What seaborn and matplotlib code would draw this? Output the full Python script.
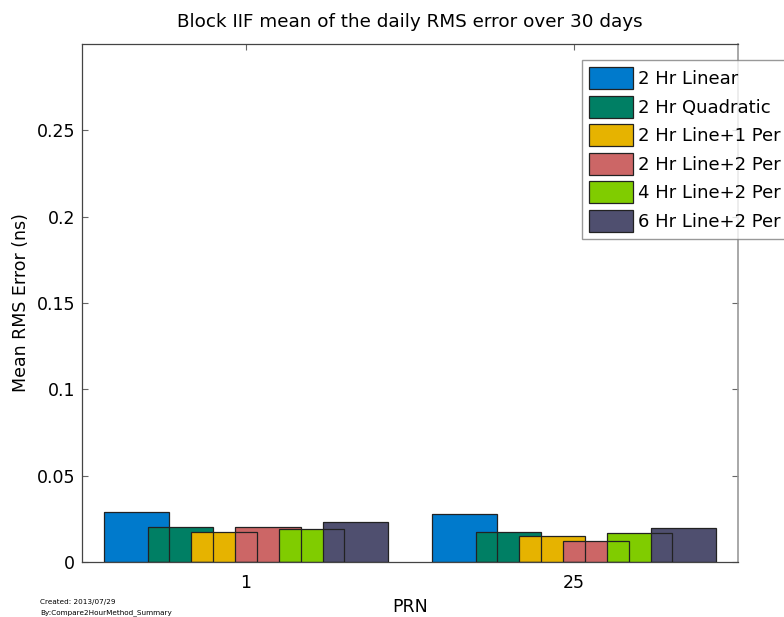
import matplotlib
matplotlib.use("Agg")
import matplotlib.pyplot as plt
import seaborn as sns
import pandas as pd
from matplotlib.patches import Patch, Rectangle

prn = ["1", "25"]
methods = ["2 Hr Linear", "2 Hr Quadratic", "2 Hr Line+1 Per",
           "2 Hr Line+2 Per", "4 Hr Line+2 Per", "6 Hr Line+2 Per"]
values = {
    "2 Hr Linear":     [0.0292, 0.0278],
    "2 Hr Quadratic":  [0.0201, 0.0172],
    "2 Hr Line+1 Per": [0.0172, 0.0149],
    "2 Hr Line+2 Per": [0.0201, 0.0120],
    "4 Hr Line+2 Per": [0.0193, 0.0166],
    "6 Hr Line+2 Per": [0.0230, 0.0197],
}
colors = ["#007ACC", "#007F64", "#E6B300", "#CC6666", "#80CC00", "#4F4F6F"]
yticks = [0, 0.05, 0.1, 0.15, 0.2, 0.25]
ytick_labels = ["0", "0.05", "0.1", "0.15", "0.2", "0.25"]

rows = []
for m in methods:
    for p, v in zip(prn, values[m]):
        rows.append({"PRN": p, "Method": m, "Value": v})
df = pd.DataFrame(rows)

sns.set_theme(style="white")
plt.rcParams["font.family"] = ["DejaVu Sans"]
plt.rcParams["text.color"] = "black"
plt.rcParams["axes.labelcolor"] = "black"

fig = plt.figure(figsize=(7.84, 6.17), dpi=100)
ax = fig.add_axes([82/784, 1-562/617, (738-82)/784, (562-44)/617])

sns.barplot(data=df, x="PRN", y="Value", hue="Method", order=prn,
            hue_order=methods, palette=colors, width=0.8, dodge=True,
            saturation=1, errorbar=None, legend=False, ax=ax)

# widen bars so they overlap (MATLAB style), draw edges on top
bar_w = 0.2
for patch in list(ax.patches):
    x0 = patch.get_x()
    w = patch.get_width()
    c = x0 + w / 2
    patch.set_x(c - bar_w / 2)
    patch.set_width(bar_w)
    patch.set_edgecolor("none")
    patch.set_linewidth(0)
for patch in list(ax.patches):
    ax.add_patch(Rectangle((patch.get_x(), 0), patch.get_width(), patch.get_height(),
                           facecolor="none", edgecolor="#222222", linewidth=0.9,
                           zorder=3))

ax.set_xlim(-0.5, 1.5)
ax.set_ylim(0, 0.3)
ax.set_yticks(yticks)
ax.set_yticklabels(ytick_labels)
ax.set_axisbelow(True)
ax.tick_params(axis="both", direction="in", length=4.5, width=0.8,
               color="#666666", labelsize=12.5, labelcolor="black",
               top=True, right=True, bottom=True, left=True, pad=5)
ax.tick_params(axis="x", pad=9)
for s in ["left", "top", "bottom"]:
    ax.spines[s].set_color("#444444")
    ax.spines[s].set_linewidth(0.9)
ax.spines["right"].set_color("#999999")
ax.spines["right"].set_linewidth(1.2)

ax.set_title("Block IIF mean of the daily RMS error over 30 days",
             fontsize=13.2, pad=12, color="black")
ax.set_xlabel("PRN", fontsize=12.5, labelpad=4)
ax.set_ylabel("Mean RMS Error (ns)", fontsize=12.5, labelpad=5)

handles = [Patch(facecolor=c, edgecolor="#222222", linewidth=0.9) for c in colors]
leg = fig.legend(handles, methods, loc="upper left",
                 bbox_to_anchor=(582/784, 1-60/617), bbox_transform=fig.transFigure,
                 borderaxespad=0, fontsize=13, frameon=True, fancybox=False,
                 handlelength=2.44, handleheight=1.5, handletextpad=0.28,
                 labelspacing=0.36, borderpad=0.39)
leg.get_frame().set_edgecolor("#808080")
leg.get_frame().set_linewidth(1)
for t in leg.get_texts():
    t.set_color("black")

fig.text(40/784, 1-604/617, "Created: 2013/07/29", fontsize=5.2)
fig.text(40/784, 1-614/617, "By:Compare2HourMethod_Summary", fontsize=5.2)

fig.savefig("out.png", dpi=100)
